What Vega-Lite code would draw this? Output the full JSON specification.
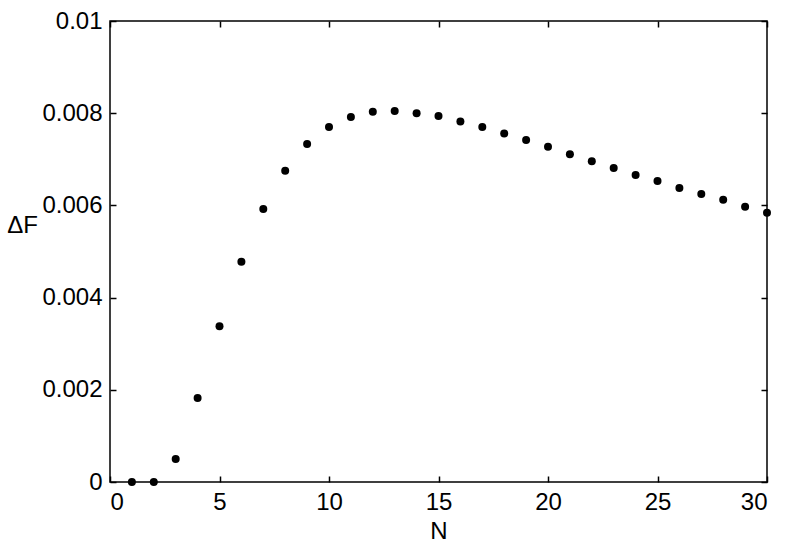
{
  "$schema": "https://vega.github.io/schema/vega-lite/v6.json",
  "autosize": "none",
  "width": 657,
  "height": 461,
  "padding": {"left": 110, "top": 21, "right": 22, "bottom": 63},
  "background": "white",
  "config": {
    "view": {"stroke": "black", "strokeWidth": 1.5},
    "font": "Liberation Sans",
    "axis": {
      "labelFont": "Liberation Sans",
      "titleFont": "Liberation Sans",
      "labelFontSize": 24,
      "titleFontSize": 24,
      "titleFontWeight": "normal",
      "labelColor": "black",
      "titleColor": "black",
      "tickColor": "black",
      "domainColor": "black",
      "grid": false,
      "domain": false,
      "tickSize": -6,
      "tickWidth": 1.5
    }
  },
  "data": {
    "values": [
      {"N": 1, "dF": 0.0},
      {"N": 2, "dF": 0.0},
      {"N": 3, "dF": 0.0005},
      {"N": 4, "dF": 0.00182},
      {"N": 5, "dF": 0.00338},
      {"N": 6, "dF": 0.00478},
      {"N": 7, "dF": 0.00592},
      {"N": 8, "dF": 0.00675},
      {"N": 9, "dF": 0.00733},
      {"N": 10, "dF": 0.0077},
      {"N": 11, "dF": 0.00792},
      {"N": 12, "dF": 0.00803},
      {"N": 13, "dF": 0.00805},
      {"N": 14, "dF": 0.008},
      {"N": 15, "dF": 0.00794},
      {"N": 16, "dF": 0.00782},
      {"N": 17, "dF": 0.0077},
      {"N": 18, "dF": 0.00756},
      {"N": 19, "dF": 0.00742},
      {"N": 20, "dF": 0.00727},
      {"N": 21, "dF": 0.00711},
      {"N": 22, "dF": 0.00696},
      {"N": 23, "dF": 0.00681},
      {"N": 24, "dF": 0.00666},
      {"N": 25, "dF": 0.00653},
      {"N": 26, "dF": 0.00638},
      {"N": 27, "dF": 0.00625},
      {"N": 28, "dF": 0.00612},
      {"N": 29, "dF": 0.00597},
      {"N": 30, "dF": 0.00584}
    ]
  },
  "layer": [
    {
      "mark": {"type": "point", "filled": true, "color": "black", "opacity": 1, "size": 64, "clip": false},
      "encoding": {
        "x": {
          "field": "N", "type": "quantitative",
          "scale": {"domain": [0, 30], "nice": false, "zero": false},
          "axis": {"values": [0, 5, 10, 15, 20, 25, 30], "title": "N", "labelPadding": 14, "titleY": 49, "titleBaseline": "middle"}
        },
        "y": {
          "field": "dF", "type": "quantitative",
          "scale": {"domain": [0, 0.01], "nice": false, "zero": false},
          "axis": {"values": [0, 0.002, 0.004, 0.006, 0.008, 0.01], "format": "~g", "title": "ΔF", "titleAngle": 0, "titleAlign": "center", "titleBaseline": "middle", "titleX": -88, "titleY": 204, "labelPadding": 14}
        }
      }
    },
    {
      "mark": {"type": "point", "opacity": 0},
      "encoding": {
        "x": {
          "field": "N", "type": "quantitative",
          "scale": {"domain": [0, 30], "nice": false, "zero": false},
          "axis": {"orient": "top", "values": [0, 5, 10, 15, 20, 25, 30], "labels": false, "title": null}
        },
        "y": {
          "field": "dF", "type": "quantitative",
          "scale": {"domain": [0, 0.01], "nice": false, "zero": false},
          "axis": {"orient": "right", "values": [0, 0.002, 0.004, 0.006, 0.008, 0.01], "labels": false, "title": null}
        }
      }
    }
  ],
  "resolve": {"scale": {"x": "independent", "y": "independent"}, "axis": {"x": "independent", "y": "independent"}}
}
